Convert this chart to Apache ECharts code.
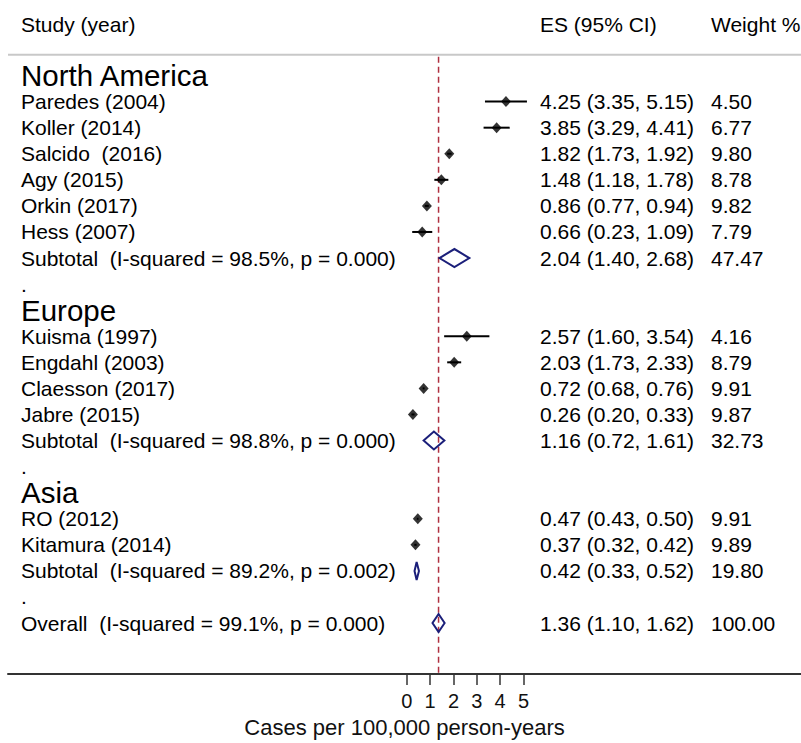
<!DOCTYPE html>
<html><head><meta charset="utf-8">
<script src="https://cdn.jsdelivr.net/npm/echarts@6/dist/echarts.min.js"></script>
<style>html,body{margin:0;padding:0;background:#fff}#c{width:801px;height:743px}</style>
</head><body><div id="c"></div>
<script>
const headerLabels = ['Study (year)', 'ES (95% CI)', 'Weight %'];
const groupNames = ['North America', 'Europe', 'Asia'];
const groupSizes = [6, 4, 2];
const studyNames = ['Paredes (2004)', 'Koller (2014)', 'Salcido  (2016)', 'Agy (2015)', 'Orkin (2017)', 'Hess (2007)', 'Kuisma (1997)', 'Engdahl (2003)', 'Claesson (2017)', 'Jabre (2015)', 'RO (2012)', 'Kitamura (2014)'];
const studyES = [4.25, 3.85, 1.82, 1.48, 0.86, 0.66, 2.57, 2.03, 0.72, 0.26, 0.47, 0.37];
const studyLo = [3.35, 3.29, 1.73, 1.18, 0.77, 0.23, 1.60, 1.73, 0.68, 0.20, 0.43, 0.32];
const studyHi = [5.15, 4.41, 1.92, 1.78, 0.94, 1.09, 3.54, 2.33, 0.76, 0.33, 0.50, 0.42];
const studyWeight = [4.50, 6.77, 9.80, 8.78, 9.82, 7.79, 4.16, 8.79, 9.91, 9.87, 9.91, 9.89];
const subtotalLabels = ['Subtotal  (I-squared = 98.5%, p = 0.000)', 'Subtotal  (I-squared = 98.8%, p = 0.000)', 'Subtotal  (I-squared = 89.2%, p = 0.002)'];
const subtotalES = [2.04, 1.16, 0.42];
const subtotalLo = [1.40, 0.72, 0.33];
const subtotalHi = [2.68, 1.61, 0.52];
const subtotalWeight = [47.47, 32.73, 19.80];
const overallLabel = 'Overall  (I-squared = 99.1%, p = 0.000)';
const overallES = 1.36, overallLo = 1.10, overallHi = 1.62, overallWeight = 100.00;
const xTicks = [0, 1, 2, 3, 4, 5];
const xAxisTitle = 'Cases per 100,000 person-years';

const FONT = '"Liberation Sans", Arial, Helvetica, sans-serif';
const COL_STUDY = 21, COL_ES = 540, COL_W = 711;
const FS = 21, FS_GROUP = 29.5;
const fmt = v => v.toFixed(2);
const fmtCI = (e, l, h) => fmt(e) + ' (' + fmt(l) + ', ' + fmt(h) + ')';

const textRows = [];
const ciData = [];
const pointData = [];
const diamondData = [];
textRows.push({row: -1.95, label: headerLabels[0], es: headerLabels[1], w: headerLabels[2], kind: 'head'});
let r = 0, s = 0;
groupNames.forEach((g, gi) => {
  textRows.push({row: r, label: g, kind: 'group'}); r++;
  for (let i = 0; i < groupSizes[gi]; i++, s++) {
    textRows.push({row: r, label: studyNames[s], es: fmtCI(studyES[s], studyLo[s], studyHi[s]), w: fmt(studyWeight[s]), kind: 'study'});
    ciData.push([studyLo[s], studyHi[s], r]);
    pointData.push([studyES[s], r]);
    r++;
  }
  textRows.push({row: r, label: subtotalLabels[gi], es: fmtCI(subtotalES[gi], subtotalLo[gi], subtotalHi[gi]), w: fmt(subtotalWeight[gi]), kind: 'sub'});
  diamondData.push([subtotalLo[gi], subtotalES[gi], subtotalHi[gi], r]);
  r++;
  textRows.push({row: r, label: '.', kind: 'dot'}); r++;
});
textRows.push({row: r, label: overallLabel, es: fmtCI(overallES, overallLo, overallHi), w: fmt(overallWeight), kind: 'overall'});
diamondData.push([overallLo, overallES, overallHi, r]);

const X_MIN = -17.1, X_MAX = 16.9, Y_MIN = -2.897, Y_MAX = 22.958;

const chart = echarts.init(document.getElementById('c'), null, {renderer: 'svg'});
chart.setOption({
  animation: false,
  backgroundColor: '#fff',
  grid: {left: 8, right: 0, top: 0, bottom: 63},
  xAxis: {
    type: 'value', min: X_MIN, max: X_MAX,
    name: xAxisTitle, nameLocation: 'middle', nameGap: 40,
    nameTextStyle: {fontSize: 22, color: '#111', fontFamily: FONT},
    splitLine: {show: false},
    axisLine: {show: true, onZero: false, lineStyle: {color: '#333', width: 2}},
    axisTick: {show: true, customValues: xTicks, length: 11, lineStyle: {color: '#333', width: 1.5}},
    axisLabel: {show: true, customValues: xTicks, margin: 17, fontSize: 20, color: '#111', fontFamily: FONT}
  },
  yAxis: {type: 'value', inverse: true, min: Y_MIN, max: Y_MAX, show: false},
  series: [
    {
      type: 'custom', name: 'sep', data: [[0]],
      renderItem: (params, api) => {
        const y = api.coord([0, -0.8])[1];
        return {type: 'line', shape: {x1: 8, y1: y, x2: 801, y2: y}, style: {stroke: '#c8c8c8', lineWidth: 2}};
      }
    },
    {
      type: 'custom', name: 'ref', data: [[overallES]],
      renderItem: (params, api) => {
        const p1 = api.coord([api.value(0), -0.72]);
        const p2 = api.coord([api.value(0), Y_MAX]);
        return {type: 'line', shape: {x1: p1[0], y1: p1[1], x2: p2[0], y2: p2[1]}, style: {stroke: '#b03040', lineWidth: 1.5, lineDash: [6, 4]}};
      }
    },
    {
      type: 'custom', name: 'ci', data: ciData,
      renderItem: (params, api) => {
        const a = api.coord([api.value(0), api.value(2)]);
        const b = api.coord([api.value(1), api.value(2)]);
        return {type: 'line', shape: {x1: a[0], y1: a[1], x2: b[0], y2: b[1]}, style: {stroke: '#000', lineWidth: 2}};
      }
    },
    {
      type: 'scatter', name: 'es', data: pointData, symbol: 'diamond', symbolSize: [10, 11],
      itemStyle: {color: '#000'}, z: 3
    },
    {
      type: 'custom', name: 'pooled', data: diamondData,
      renderItem: (params, api) => {
        const row = api.value(3);
        const l = api.coord([api.value(0), row]);
        const e = api.coord([api.value(1), row]);
        const h = api.coord([api.value(2), row]);
        const hh = 9;
        return {type: 'polygon', shape: {points: [[l[0], l[1]], [e[0], e[1] - hh], [h[0], h[1]], [e[0], e[1] + hh]]},
          style: {fill: 'none', stroke: '#1b1f7a', lineWidth: 2}, z2: 5};
      }
    },
    {
      type: 'custom', name: 'text', data: textRows.map(t => [0, t.row]),
      renderItem: (params, api) => {
        const t = textRows[params.dataIndex];
        const y = api.coord([0, api.value(1)])[1];
        const big = t.kind === 'group';
        const children = [{type: 'text', style: {text: t.label, x: COL_STUDY, y: y, fill: '#000', fontSize: big ? FS_GROUP : FS, fontFamily: FONT, align: 'left', verticalAlign: 'middle'}}];
        if (t.es) children.push({type: 'text', style: {text: t.es, x: COL_ES, y: y, fill: '#000', fontSize: FS, fontFamily: FONT, align: 'left', verticalAlign: 'middle'}});
        if (t.w) children.push({type: 'text', style: {text: t.w, x: COL_W, y: y, fill: '#000', fontSize: FS, fontFamily: FONT, align: 'left', verticalAlign: 'middle'}});
        return {type: 'group', children: children};
      }
    }
  ]
});
</script>
</body></html>
